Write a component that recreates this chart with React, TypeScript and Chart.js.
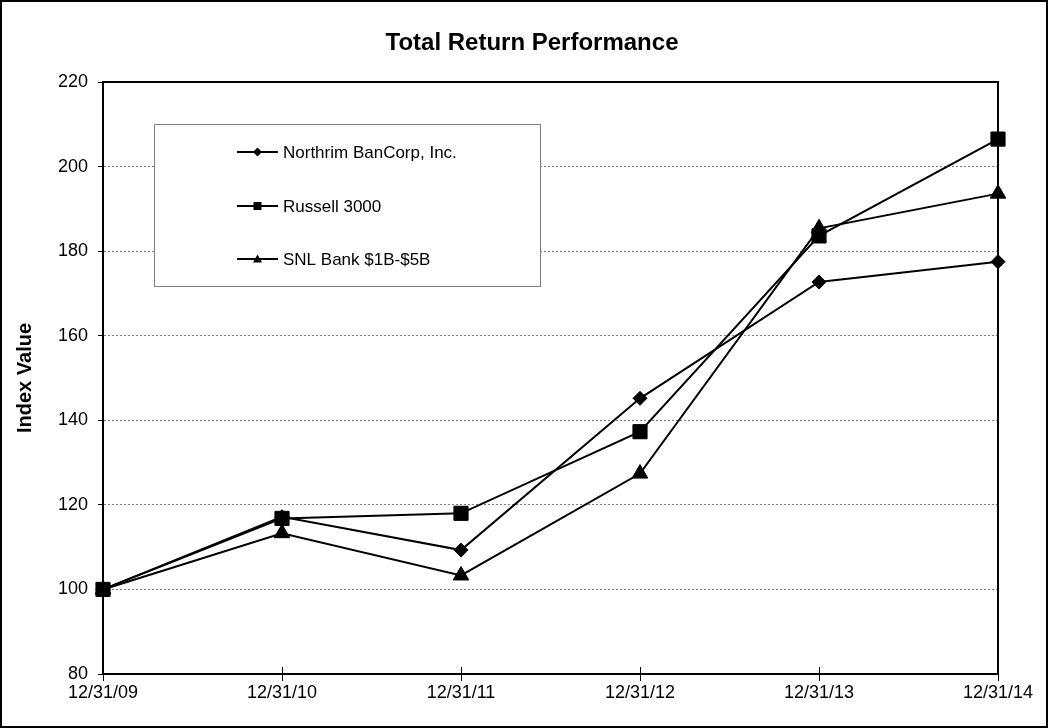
import React, { useEffect, useRef } from 'react';
import { Chart, registerables } from 'chart.js';

Chart.register(...registerables);

const categories = ['12/31/09', '12/31/10', '12/31/11', '12/31/12', '12/31/13', '12/31/14'];
const northrim = [100, 117.2, 109.3, 145.2, 172.7, 177.5];
const russell = [100, 116.8, 118.0, 137.3, 183.6, 206.5];
const snl = [100, 113.3, 103.3, 127.4, 185.4, 193.6];
const seriesNames = ['Northrim BanCorp, Inc.', 'Russell 3000', 'SNL Bank $1B-$5B'];
const chartTitle = 'Total Return Performance';
const yAxisTitle = 'Index Value';
const yMin = 80;
const yMax = 220;
const yStep = 20;

const FONT = "Arial, 'Liberation Sans', sans-serif";

function drawMarker(ctx: CanvasRenderingContext2D, style: string, x: number, y: number, s: number) {
  ctx.beginPath();
  if (style === 'rectRot') {
    ctx.moveTo(x, y - s);
    ctx.lineTo(x + s, y);
    ctx.lineTo(x, y + s);
    ctx.lineTo(x - s, y);
  } else if (style === 'rect') {
    ctx.rect(x - s, y - s, 2 * s, 2 * s);
  } else {
    ctx.moveTo(x, y - s);
    ctx.lineTo(x + s, y + s * 0.8);
    ctx.lineTo(x - s, y + s * 0.8);
  }
  ctx.closePath();
  ctx.fill();
}

const framePlugin = {
  id: 'frame',
  beforeDraw(chart: any) {
    const ctx = chart.ctx;
    ctx.save();
    ctx.fillStyle = '#ffffff';
    ctx.fillRect(0, 0, chart.width, chart.height);
    ctx.restore();
  },
  beforeDatasetsDraw(chart: any) {
    const ctx = chart.ctx;
    const a = chart.chartArea;
    ctx.save();
    ctx.strokeStyle = '#000';
    ctx.lineWidth = 2;
    ctx.beginPath();
    ctx.moveTo(a.left, a.top);
    ctx.lineTo(a.right, a.top);
    ctx.lineTo(a.right, a.bottom);
    ctx.stroke();
    // upward part of crossing x ticks
    const xs = chart.scales.x;
    ctx.lineWidth = 1;
    ctx.beginPath();
    for (let i = 0; i < xs.ticks.length; i++) {
      const px = Math.round(xs.getPixelForTick(i)) + 0.5;
      ctx.moveTo(px, a.bottom - 7);
      ctx.lineTo(px, a.bottom);
    }
    ctx.stroke();
    ctx.restore();
  },
  afterDatasetsDraw(chart: any) {
    const ctx = chart.ctx;
    ctx.save();
    // legend box
    const bx = 154.5, by = 124.5, bw = 386, bh = 162;
    ctx.fillStyle = '#ffffff';
    ctx.fillRect(bx, by, bw, bh);
    ctx.strokeStyle = '#808080';
    ctx.lineWidth = 1;
    ctx.strokeRect(bx, by, bw, bh);
    const rows = [152, 206, 259];
    chart.data.datasets.forEach((ds: any, i: number) => {
      const y = rows[i];
      ctx.strokeStyle = '#000';
      ctx.lineWidth = 2;
      ctx.beginPath();
      ctx.moveTo(237, y);
      ctx.lineTo(278, y);
      ctx.stroke();
      ctx.fillStyle = '#000';
      drawMarker(ctx, ds.pointStyle, 257.5, y, ds.pointStyle === 'rect' ? 4 : 4.5);
      ctx.font = `17px ${FONT}`;
      ctx.textAlign = 'left';
      ctx.textBaseline = 'middle';
      ctx.fillText(ds.label, 283, y + 1);
    });
    ctx.restore();
  },
  afterDraw(chart: any) {
    const ctx = chart.ctx;
    ctx.save();
    ctx.fillStyle = '#000';
    ctx.font = `bold 24px ${FONT}`;
    ctx.textAlign = 'center';
    ctx.textBaseline = 'middle';
    ctx.fillText(chartTitle, 532, 43);
    ctx.strokeStyle = '#000';
    ctx.lineWidth = 2;
    ctx.strokeRect(1, 1, chart.width - 3, chart.height - 2);
    ctx.restore();
  },
};

export default function App() {
  const ref = useRef<HTMLCanvasElement | null>(null);

  useEffect(() => {
    if (!ref.current) return;
    const mk = (label: string, data: number[], style: string, r: number) => ({
      label,
      data,
      borderColor: '#000',
      backgroundColor: '#000',
      borderWidth: 2,
      pointStyle: style,
      pointRadius: r,
      pointHoverRadius: r,
      pointBorderWidth: 1,
      pointBackgroundColor: '#000',
      pointBorderColor: '#000',
      tension: 0,
      clip: false as any,
    });
    const chart = new Chart(ref.current, {
      type: 'line',
      data: {
        labels: categories,
        datasets: [
          mk(seriesNames[0], northrim, 'rectRot', 7),
          mk(seriesNames[1], russell, 'rect', 10),
          mk(seriesNames[2], snl, 'triangle', 9),
        ],
      },
      options: {
        animation: false,
        responsive: false,
        events: [],
        layout: { padding: { top: 82, right: 51, left: 0, bottom: 0 } },
        plugins: {
          legend: { display: false },
          title: { display: false },
          tooltip: { enabled: false },
        },
        scales: {
          x: {
            type: 'category',
            offset: false,
            afterFit: (s: any) => { s.height = 54; },
            grid: {
              drawOnChartArea: false,
              drawTicks: true,
              tickLength: 7,
              tickColor: '#000',
              tickWidth: 1,
            },
            border: { color: '#000', width: 2 },
            ticks: {
              color: '#000',
              font: { family: FONT, size: 18 },
              padding: 1,
              autoSkip: false,
              maxRotation: 0,
              minRotation: 0,
            },
          },
          y: {
            min: yMin,
            max: yMax,
            afterFit: (s: any) => { s.width = 103; },
            grid: {
              color: (c: any) => (c.tick && (c.tick.value === yMin || c.tick.value === yMax) ? 'rgba(0,0,0,0)' : '#808080'),
              lineWidth: 1,
              drawTicks: true,
              tickLength: 5,
              tickColor: '#000',
              tickWidth: 1,
            },
            border: { color: '#000', width: 2, dash: [2, 2] },
            ticks: {
              stepSize: yStep,
              color: '#000',
              font: { family: FONT, size: 18 },
              padding: 10,
            },
            title: {
              display: true,
              text: yAxisTitle,
              color: '#000',
              font: { family: FONT, size: 20, weight: 'bold' },
              padding: { top: 13, bottom: 0 },
            },
          },
        },
      },
      plugins: [framePlugin],
    } as any);
    return () => chart.destroy();
  }, []);

  return (
    <div style={{ position: 'absolute', left: 0, top: 0, width: 1049, height: 728 }}>
      <canvas ref={ref} width={1049} height={728} style={{ display: 'block', width: 1049, height: 728 }} />
    </div>
  );
}
